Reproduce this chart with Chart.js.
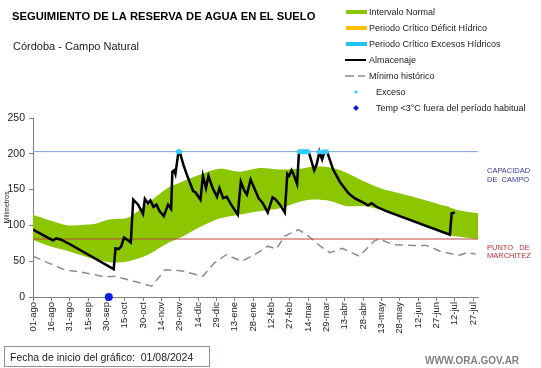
<!DOCTYPE html>
<html lang="es">
<head>
<meta charset="utf-8">
<title>Seguimiento de la reserva de agua en el suelo</title>
<script src="https://cdn.jsdelivr.net/npm/chart.js@4.4.1/dist/chart.umd.min.js"></script>
<style>
  html, body { margin: 0; padding: 0; background: #fff; }
  #wrap { position: relative; width: 541px; height: 368px; }
</style>
</head>
<body>
<div id="wrap"><canvas id="reservaChart" width="541" height="368"></canvas></div>
<script>
// Eje x en días desde el 01/08/2024, una marca cada 15 días
const tickLabels = ['01-ago', '16-ago', '31-ago', '15-sep', '30-sep', '15-oct', '30-oct', '14-nov', '29-nov',
    '14-dic', '29-dic', '13-ene', '28-ene', '12-feb', '27-feb', '14-mar', '29-mar', '13-abr', '28-abr',
    '13-may', '28-may', '12-jun', '27-jun', '12-jul', '27-jul'];
const extremos = [0, 364];

// Almacenaje (mm)
const almDias = [0, 12, 16.5, 19, 23, 31, 66, 67.5, 70, 72, 74.5, 77, 80, 82, 86, 90, 91.5, 94, 96, 98.5,
    101, 103.5, 107, 110.5, 113, 114, 115.5, 116.5, 119, 120, 123, 126, 131, 133, 137, 139, 141.5, 143.5,
    147, 150.5, 152.5, 155.5, 158.5, 162.5, 167.5, 170, 173, 175, 178, 181.5, 184.5, 188, 192, 196, 198,
    202, 206, 208, 209.5, 211.5, 213, 216, 217.6, 225.5, 230, 232, 234.3, 236.5, 238.5, 240.5, 245.5, 251,
    254, 258, 263, 269, 274, 277, 281, 289, 341, 342.5, 345];
const almValores = [94, 83, 79, 82, 80, 73, 39, 68, 67, 70, 83, 80, 76, 136, 129, 116, 137, 131, 135, 126,
    129, 120, 113, 129, 123, 175, 177, 172, 203, 203, 185, 170, 148, 146, 136, 169, 152, 169,
    152, 140, 152, 138, 140, 128, 115, 161, 148, 143, 164, 150, 138, 131, 118, 139, 137,
    129, 118, 172, 169, 177, 172, 158, 203, 203, 177, 185, 203, 192, 203, 203, 178, 161,
    154, 145, 138, 133, 128, 131, 126, 120, 87, 117, 118];

// Intervalo normal (límites inferior y superior, mm)
const bandaDias = [0, 12, 29, 42, 50, 61, 67, 78, 94, 110, 122, 137, 153, 169, 186, 202, 218, 229, 243,
    256, 270, 284, 297, 311, 319, 333, 338, 346, 364];
const bandaSuperior = [115, 108, 100, 101, 102, 108, 109, 111, 131, 152, 161, 171, 179, 175, 180, 178, 179,
    182, 181, 174, 162, 152, 146, 140, 136, 129, 127, 122, 117];
const bandaInferior = [80, 72, 64, 57, 53, 49, 48, 50, 59, 75, 84, 98, 110, 115, 120, 124, 133, 136, 134,
    127, 127, 122, 115, 106, 99, 91, 87, 85, 81];

// Mínimo histórico (mm)
const minDias = [0, 12, 26, 42, 59, 67, 78, 89, 97, 108, 119, 123, 139, 148, 158, 171, 183, 192, 199, 206,
    217, 224, 235, 243, 253, 267, 279, 283, 295, 311, 322, 333, 348, 355, 362];
const minValores = [57, 48, 38, 34, 28, 29, 24, 19, 15, 38, 37, 36, 29, 47, 59, 50, 61, 71, 67, 85,
    94, 87, 71, 62, 68, 57, 78, 81, 73, 72, 72, 64, 58, 62, 60];

// Días con exceso y con temperatura < 3°C
const excesoDias = [119, 120, 218, 219, 220, 221, 222, 223, 224, 225, 234, 238, 240];
const excesoValores = [203, 203, 203, 203, 203, 203, 203, 203, 203, 203, 203, 203, 203];
const tempDias = [62];
const tempValores = [0];

const capacidad = 203;
const marchitez = 81;

const leyendaTextos = ['Intervalo Normal', 'Periodo Crítico Déficit Hídrico', 'Periodo Crítico Excesos Hídricos',
    'Almacenaje', 'Mínimo histórico', 'Exceso', 'Temp <3°C fuera del período habitual'];

const pts = (dias, vals) => dias.map((d, i) => ({ x: d, y: vals[i] }));
const FONT = '"Liberation Sans", Arial, sans-serif';

// Textos, leyenda y recuadros fuera del gráfico
const textos = {
    id: 'textos',
    beforeDraw(chart) {
        const c = chart.ctx;
        c.save();
        c.fillStyle = '#fff';
        c.fillRect(0, 0, chart.width, chart.height);
        c.restore();
    },
    afterDraw(chart) {
        const c = chart.ctx;
        c.save();
        c.textBaseline = 'alphabetic';
        c.fillStyle = '#000';
        c.font = 'bold 11.2px ' + FONT;
        c.fillText('SEGUIMIENTO DE LA RESERVA DE AGUA EN EL SUELO', 12, 20);
        c.fillStyle = '#222';
        c.font = '11px ' + FONT;
        c.fillText('Córdoba - Campo Natural', 13, 50);

        // leyenda
        const filas = [12, 28, 44, 60, 76, 92, 108];
        const swatch = ['#8cc600', '#ffc000', '#22c4f0'];
        c.font = '9px ' + FONT;
        leyendaTextos.forEach((t, i) => {
            const y = filas[i];
            if (i < 3) {
                c.fillStyle = swatch[i];
                c.fillRect(346, y - 2, 21, 4);
            } else if (i === 3) {
                c.fillStyle = '#000';
                c.fillRect(345, y - 1, 21, 2);
            } else if (i === 4) {
                c.fillStyle = '#8c8c8c';
                c.fillRect(345, y - 0.75, 9, 1.5);
                c.fillRect(358, y - 0.75, 7, 1.5);
            } else if (i === 5) {
                c.fillStyle = '#33ccff';
                c.beginPath(); c.arc(356, y, 1.6, 0, Math.PI * 2); c.fill();
            } else {
                c.fillStyle = '#1020d0';
                c.beginPath();
                c.moveTo(356, y - 3); c.lineTo(359, y); c.lineTo(356, y + 3); c.lineTo(353, y);
                c.closePath(); c.fill();
            }
            c.fillStyle = '#222';
            c.fillText(t, i < 5 ? 369 : 376, y + 3.3);
        });

        // rótulos a la derecha
        c.font = '7.5px ' + FONT;
        c.fillStyle = '#3c3caa';
        c.fillText('CAPACIDAD', 487, 173);
        c.fillText('DE  CAMPO', 487, 182);
        c.fillStyle = '#b83030';
        c.fillText('PUNTO   DE', 487, 250);
        c.fillText('MARCHITEZ', 487, 258);

        // recuadro de fecha
        c.strokeStyle = '#a08a8a';
        c.lineWidth = 1;
        c.strokeRect(4.5, 346.5, 205, 20);
        c.fillStyle = '#222';
        c.font = '10.5px ' + FONT;
        c.fillText('Fecha de inicio del gráfico:  01/08/2024', 10, 361);

        c.fillStyle = '#808080';
        c.font = 'bold 10px ' + FONT;
        c.fillText('WWW.ORA.GOV.AR', 425, 364);
        c.restore();
    }
};

document.addEventListener('DOMContentLoaded', function() {
    const ctx = document.getElementById('reservaChart').getContext('2d');
    Chart.defaults.font.family = FONT;

    new Chart(ctx, {
        type: 'line',
        data: {
            datasets: [
                {
                    label: 'Temp <3°C', data: pts(tempDias, tempValores), showLine: false,
                    pointRadius: 4, pointBackgroundColor: '#0a1fe6', pointBorderWidth: 0, clip: false
                },
                {
                    label: 'Exceso', data: pts(excesoDias, excesoValores), showLine: false,
                    pointRadius: 2.5, pointBackgroundColor: '#33ccff', pointBorderWidth: 0, clip: false
                },
                {
                    label: 'Almacenaje', data: pts(almDias, almValores), borderColor: '#000',
                    borderWidth: 2.5, pointRadius: 0, tension: 0, fill: false
                },
                {
                    label: 'Capacidad de campo', data: pts(extremos, [capacidad, capacidad]),
                    borderColor: '#7f9fd4', borderWidth: 1, pointRadius: 0, fill: false
                },
                {
                    label: 'Punto de marchitez', data: pts(extremos, [marchitez, marchitez]),
                    borderColor: '#b8463c', borderWidth: 1, pointRadius: 0, fill: false
                },
                {
                    label: 'Mínimo histórico', data: pts(minDias, minValores), borderColor: '#8c8c8c',
                    borderWidth: 1.5, borderDash: [8, 5], pointRadius: 0, tension: 0, fill: false
                },
                {
                    label: 'Intervalo Normal', data: pts(bandaDias, bandaSuperior), borderWidth: 0,
                    borderColor: 'rgba(0,0,0,0)', backgroundColor: '#8cc600', pointRadius: 0,
                    tension: 0.3, fill: '+1'
                },
                {
                    label: 'Límite inferior', data: pts(bandaDias, bandaInferior), borderWidth: 0,
                    borderColor: 'rgba(0,0,0,0)', pointRadius: 0, tension: 0.3, fill: false
                }
            ]
        },
        options: {
            responsive: false,
            animation: false,
            layout: { padding: { left: 0, right: 63, top: 118, bottom: 0 } },
            plugins: { legend: { display: false }, tooltip: { enabled: false } },
            scales: {
                x: {
                    type: 'linear', min: extremos[0], max: extremos[1],
                    afterFit: (s) => { s.height = 71; },
                    ticks: {
                        stepSize: 15, includeBounds: false, autoSkip: false,
                        minRotation: 90, maxRotation: 90, padding: 1,
                        color: '#222', font: { size: 9.5 },
                        callback: (v) => tickLabels[Math.round(v / 15)] ?? ''
                    },
                    grid: { drawOnChartArea: false, tickLength: 4, color: '#808080' },
                    border: { color: '#808080' }
                },
                y: {
                    min: 0, max: 250,
                    afterFit: (s) => { s.width = 33; },
                    ticks: { stepSize: 50, padding: 4, color: '#222', font: { size: 10.5 } },
                    grid: { drawOnChartArea: false, tickLength: 4, color: '#808080' },
                    border: { color: '#808080' },
                    title: {
                        display: true, text: 'Milimetros', color: '#222', font: { size: 7 },
                        padding: { top: 2.5, bottom: 0 }
                    }
                }
            }
        },
        plugins: [textos]
    });
});
</script>
</body>
</html>
